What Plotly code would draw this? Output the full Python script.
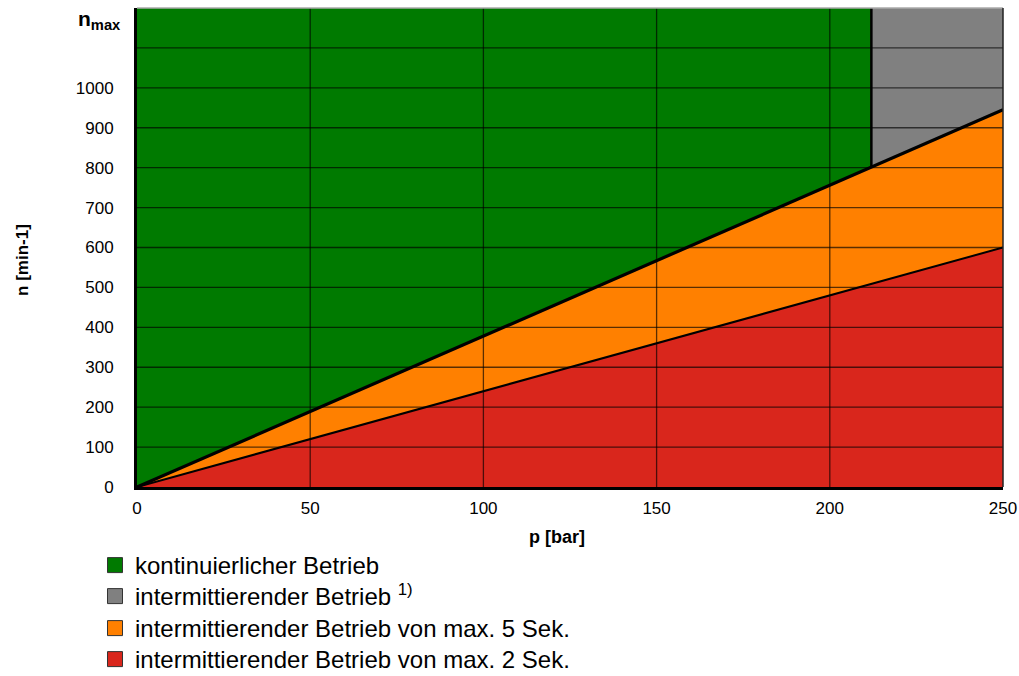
import plotly.graph_objects as go

# ---- data ----
p_ticks = [0, 50, 100, 150, 200, 250]
n_ticks = [0, 100, 200, 300, 400, 500, 600, 700, 800, 900, 1000, 1100]
n_tick_text = ["0", "100", "200", "300", "400", "500", "600", "700", "800", "900", "1000", ""]
n_max_value = 1170
n_top = 1200
p_max = 250

# continuous-operation limit line (green/orange boundary) and its extension (gray/orange)
p_cont = [0, 212, 250]
n_cont = [0, 801, 945]
# 2-second limit line (orange/red boundary)
p_red = [0, 250]
n_red = [0, 600]
# pressure limit of continuous operation
p_limit = 212

labels = [
    "kontinuierlicher Betrieb",
    "intermittierender Betrieb <sup>1)</sup>",
    "intermittierender Betrieb von max. 5 Sek.",
    "intermittierender Betrieb von max. 2 Sek.",
]
colors = ["#007A00", "#808080", "#FF8000", "#D9261C"]

FONT = "Arial, Liberation Sans, sans-serif"
W, H = 1019, 676

fig = go.Figure()

# green region
fig.add_trace(go.Scatter(
    x=[p_cont[0], p_cont[1], p_limit, 0, p_cont[0]],
    y=[n_cont[0], n_cont[1], n_top, n_top, n_cont[0]],
    fill="toself", fillcolor=colors[0], line=dict(width=0), mode="lines",
    showlegend=False, hoverinfo="skip"))
# gray region
fig.add_trace(go.Scatter(
    x=[p_cont[1], p_cont[2], p_max, p_limit, p_cont[1]],
    y=[n_cont[1], n_cont[2], n_top, n_top, n_cont[1]],
    fill="toself", fillcolor=colors[1], line=dict(width=0), mode="lines",
    showlegend=False, hoverinfo="skip"))
# orange region
fig.add_trace(go.Scatter(
    x=[p_cont[0], p_cont[2], p_red[1], p_cont[0]],
    y=[n_cont[0], n_cont[2], n_red[1], n_cont[0]],
    fill="toself", fillcolor=colors[2], line=dict(width=0), mode="lines",
    showlegend=False, hoverinfo="skip"))
# red region
fig.add_trace(go.Scatter(
    x=[p_red[0], p_red[1], p_max, p_red[0]],
    y=[n_red[0], n_red[1], 0, n_red[0]],
    fill="toself", fillcolor=colors[3], line=dict(width=0), mode="lines",
    showlegend=False, hoverinfo="skip"))

# gridlines above the fills
for v in p_ticks[1:-1]:
    fig.add_shape(type="line", x0=v, x1=v, y0=0, y1=n_top, xref="x", yref="y",
                  line=dict(color="rgba(0,0,0,0.65)", width=1.3), layer="above")
for v in n_ticks[1:]:
    fig.add_shape(type="line", x0=0, x1=p_max, y0=v, y1=v, xref="x", yref="y",
                  line=dict(color="rgba(0,0,0,0.65)", width=1.3), layer="above")

# boundary lines
fig.add_trace(go.Scatter(x=p_red, y=n_red, mode="lines",
                         line=dict(color="black", width=2), showlegend=False, hoverinfo="skip"))
fig.add_trace(go.Scatter(x=p_cont, y=n_cont, mode="lines",
                         line=dict(color="black", width=3.2), showlegend=False, hoverinfo="skip"))
fig.add_trace(go.Scatter(x=[p_limit, p_limit], y=[n_cont[1], n_top], mode="lines",
                         line=dict(color="black", width=2.5), showlegend=False, hoverinfo="skip"))

# legend entries, one legend per row for exact row spacing
legend_names = ["legend", "legend2", "legend3", "legend4"]
legend_tops = [543, 574, 606, 637]
for lab, col, lg in zip(labels, colors, legend_names):
    fig.add_trace(go.Scatter(
        x=[None], y=[None], mode="markers", name=lab, legend=lg,
        marker=dict(symbol="square", size=15, color=col, line=dict(color="#333333", width=1))))

# plot frame: top (light gray) and right (dark)
fig.add_shape(type="line", x0=0, x1=1, y0=1, y1=1, xref="paper", yref="paper",
              line=dict(color="#AAAAAA", width=1.5), layer="above")
fig.add_shape(type="line", x0=1, x1=1, y0=0, y1=1, xref="paper", yref="paper",
              line=dict(color="#222222", width=1.5), layer="above")

fig.update_xaxes(
    range=[0, p_max], tickvals=p_ticks, ticktext=[str(v) for v in p_ticks],
    showgrid=False, zeroline=False, showline=True, linecolor="black", linewidth=3,
    ticks="", ticklabelstandoff=4, ticklabeloverflow="allow",
    tickfont=dict(family=FONT, size=17, color="black"), layer="above traces")
fig.update_yaxes(
    range=[0, n_top], tickvals=n_ticks, ticktext=n_tick_text,
    showgrid=False, zeroline=False, showline=True, linecolor="black", linewidth=3,
    ticks="", ticklabelstandoff=17,
    tickfont=dict(family=FONT, size=17, color="black"), layer="above traces")

fig.add_annotation(text="<b>n<sub>max</sub></b>", x=0, y=n_max_value, xref="paper", yref="y",
                   xanchor="right", yanchor="middle", xshift=-14, showarrow=False,
                   font=dict(family=FONT, size=21, color="black"))
fig.add_annotation(text="<b>p [bar]</b>", x=0.485, y=0, xref="paper", yref="paper",
                   xanchor="center", yanchor="middle", yshift=-50, showarrow=False,
                   font=dict(family=FONT, size=18, color="black"))
fig.add_annotation(text="<b>n [min-1]</b>", x=0, y=0.474, xref="paper", yref="paper",
                   xanchor="center", yanchor="middle", xshift=-114, textangle=-90,
                   showarrow=False, font=dict(family=FONT, size=17, color="black"))

legend_layout = {}
for lg, top in zip(legend_names, legend_tops):
    legend_layout[lg] = dict(
        x=95 / W, y=1 - top / H, xref="container", yref="container",
        xanchor="left", yanchor="top", orientation="v",
        font=dict(family=FONT, size=24, color="black"),
        bgcolor="rgba(0,0,0,0)", borderwidth=0)

fig.update_layout(
    width=W, height=H, autosize=False,
    margin=dict(l=137, r=16, t=8, b=189, autoexpand=False),
    plot_bgcolor="white", paper_bgcolor="white",
    showlegend=True,
    **legend_layout,
)

fig.write_html("out.html", config={"displayModeBar": False},
               post_script="document.body.style.margin='0';document.body.style.overflow='hidden';")
